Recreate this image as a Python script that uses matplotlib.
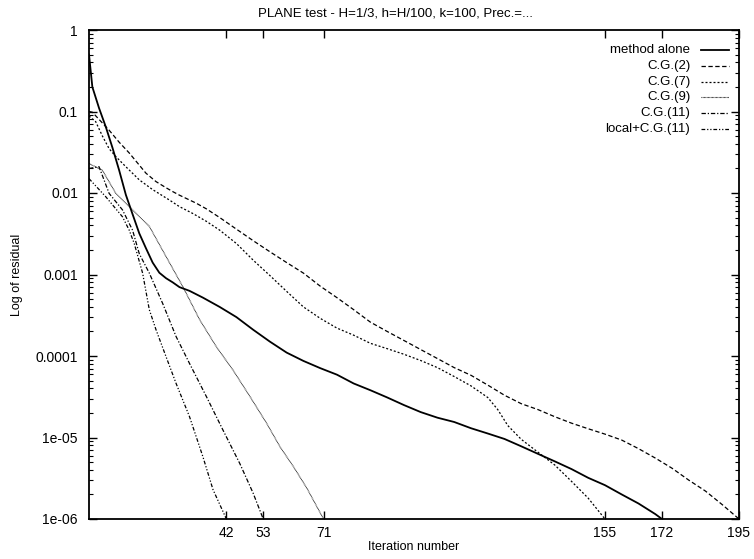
import matplotlib
matplotlib.use('Agg')
import matplotlib.pyplot as plt
from matplotlib.ticker import FixedLocator, LogLocator, NullFormatter

# residual histories
alone_it = [1, 2, 4, 6, 8, 10, 12, 14, 16, 18, 20, 22, 24, 26, 28, 31, 35, 40, 45, 50,
            55, 60, 65, 70, 75, 80, 85, 90, 95, 100, 105, 110, 115, 120, 125, 130, 135,
            140, 145, 150, 155, 160, 165, 170, 172]
alone_res = [0.5, 0.2, 0.11, 0.065, 0.036, 0.019, 0.0095, 0.0055, 0.0032, 0.0021, 0.0014,
             0.00105, 0.0009, 0.0008, 0.0007, 0.00063, 0.00052, 0.0004, 0.0003, 0.00021,
             0.00015, 0.00011, 8.7e-5, 7.1e-5, 5.9e-5, 4.6e-5, 3.8e-5, 3.1e-5, 2.5e-5,
             2.05e-5, 1.75e-5, 1.55e-5, 1.3e-5, 1.12e-5, 9.6e-6, 7.8e-6, 6.3e-6, 5.1e-6,
             4.1e-6, 3.2e-6, 2.6e-6, 2.0e-6, 1.55e-6, 1.15e-6, 1.0e-6]

cg2_it = [1, 2, 4, 7, 10, 13, 16, 18, 21, 24, 26, 28, 33, 36, 40, 45, 50, 55, 60, 65, 70,
          75, 80, 85, 90, 95, 100, 105, 110, 115, 120, 125, 130, 135, 140, 145, 150, 155,
          160, 165, 170, 175, 180, 185, 190, 195]
cg2_res = [0.10, 0.098, 0.08, 0.059, 0.042, 0.031, 0.022, 0.0175, 0.0138, 0.0116, 0.0104,
           0.0094, 0.0075, 0.0064, 0.005, 0.0036, 0.0026, 0.0019, 0.0014, 0.00104, 0.00072,
           0.00052, 0.00037, 0.00026, 0.0002, 0.000155, 0.00012, 9.3e-5, 7.2e-5, 5.8e-5,
           4.4e-5, 3.3e-5, 2.6e-5, 2.2e-5, 1.8e-5, 1.5e-5, 1.28e-5, 1.1e-5, 9.3e-6, 7.3e-6,
           5.6e-6, 4.2e-6, 3.0e-6, 2.2e-6, 1.5e-6, 1.0e-6]

cg7_it = [1, 3, 5, 7, 9, 12, 16, 20, 25, 28, 32, 36, 40, 45, 50, 55, 60, 65, 70, 75, 80,
          85, 90, 95, 100, 105, 110, 115, 120, 123, 126, 130, 135, 140, 145, 150, 155]
cg7_res = [0.088, 0.075, 0.05, 0.035, 0.028, 0.021, 0.0145, 0.011, 0.0082, 0.0068, 0.0056,
           0.0045, 0.0035, 0.0024, 0.0015, 0.00097, 0.00062, 0.0004, 0.00029, 0.00022,
           0.00018, 0.000143, 0.000123, 0.000105, 8.8e-5, 7.2e-5, 5.6e-5, 4.3e-5, 3.1e-5,
           2.2e-5, 1.4e-5, 9.5e-6, 6.6e-6, 4.6e-6, 2.9e-6, 1.8e-6, 1.0e-6]

cg9_it = [1, 5, 9, 14, 19, 24, 29, 34, 39, 44, 49, 54, 58, 62, 66, 71]
cg9_res = [0.023, 0.019, 0.0099, 0.0062, 0.0039, 0.00166, 0.00071, 0.00028, 0.00013,
           6.7e-5, 3.2e-5, 1.5e-5, 7.7e-6, 4.4e-6, 2.4e-6, 1.0e-6]

cg11_it = [1, 4, 7, 11, 14, 16, 19, 23, 27, 31, 36, 41, 46, 50, 53]
cg11_res = [0.02, 0.021, 0.0099, 0.0062, 0.0035, 0.0018, 0.00104, 0.00044, 0.000173,
            8.1e-5, 3.2e-5, 1.23e-5, 4.8e-6, 2.07e-6, 1.0e-6]

loc_it = [1, 6, 11, 13, 14.5, 17, 19, 21, 24, 27, 31, 35, 38, 42]
loc_res = [0.015, 0.009, 0.0051, 0.0035, 0.0024, 0.00104, 0.00037, 0.00021, 9.8e-5,
           4.6e-5, 1.8e-5, 5.8e-6, 2.3e-6, 1.0e-6]

labels = ["method alone", "C.G.(2)", "C.G.(7)", "C.G.(9)", "C.G.(11)", "local+C.G.(11)"]
xticks = [42, 53, 71, 155, 172, 195]

plt.rcParams['font.family'] = ['Liberation Sans', 'DejaVu Sans']

fig = plt.figure(figsize=(7.54, 5.59), dpi=100)
ax = fig.add_axes([89 / 754, 1 - 519 / 559, 650 / 754, 489 / 559])

styles = [
  dict(ls='-', lw=1.3),
  dict(ls=(0, (3.5, 2)), lw=0.9),
  dict(ls=(0, (1.6, 1.6)), lw=0.9),
  dict(ls=(0, (0.6, 0.6)), lw=0.8),
  dict(ls=(0, (3.5, 1.5, 1, 1.5)), lw=0.9),
  dict(ls=(0, (3, 1.5, 1, 1.5, 1, 1.5)), lw=0.9),
]
series = [(alone_it, alone_res), (cg2_it, cg2_res), (cg7_it, cg7_res),
          (cg9_it, cg9_res), (cg11_it, cg11_res), (loc_it, loc_res)]

for (x, y), st in zip(series, styles):
  ax.plot(x, y, color='black', **st)

ax.set_yscale('log')
ax.set_xlim(1, 195)
ax.set_ylim(1e-6, 1)

# x ticks only at the end of each curve
ax.xaxis.set_major_locator(FixedLocator(xticks))
ax.set_xticklabels([str(t) for t in xticks])
ax.set_yticks([1e-6, 1e-5, 1e-4, 1e-3, 1e-2, 1e-1, 1])
ax.set_yticklabels(['1e-06', '1e-05', '0.0001', '0.001', '0.01', '0.1', '1'])
ax.yaxis.set_minor_locator(LogLocator(base=10, subs=range(2, 10)))
ax.yaxis.set_minor_formatter(NullFormatter())
ax.tick_params(which='both', direction='in', top=True, right=True, labelsize=10)
ax.tick_params(which='major', length=6, width=1)
ax.tick_params(axis='y', which='major', pad=8)
ax.tick_params(axis='x', which='major', pad=5)
ax.tick_params(which='minor', length=3, width=0.8)
for s in ax.spines.values():
  s.set_linewidth(1.3)

ax.set_xlabel('Iteration number', fontsize=9, labelpad=1)
ax.set_ylabel('Log of residual', fontsize=9, labelpad=9)
fig.text(0.525, 0.975, 'PLANE test - H=1/3, h=H/100, k=100, Prec.=...', ha='center',
         va='center', fontsize=9.5)

# gnuplot style key: label right aligned, sample line after it
for i, (lab, st) in enumerate(zip(labels, styles)):
  yk = 1 - (50 + 15.8 * i - 30) / 489
  ax.text(0.925, yk, lab, transform=ax.transAxes, ha='right', va='center', fontsize=9.5)
  ax.plot([0.942, 0.985], [yk, yk], transform=ax.transAxes, color='black', **st)

fig.savefig('out.png', dpi=100)
